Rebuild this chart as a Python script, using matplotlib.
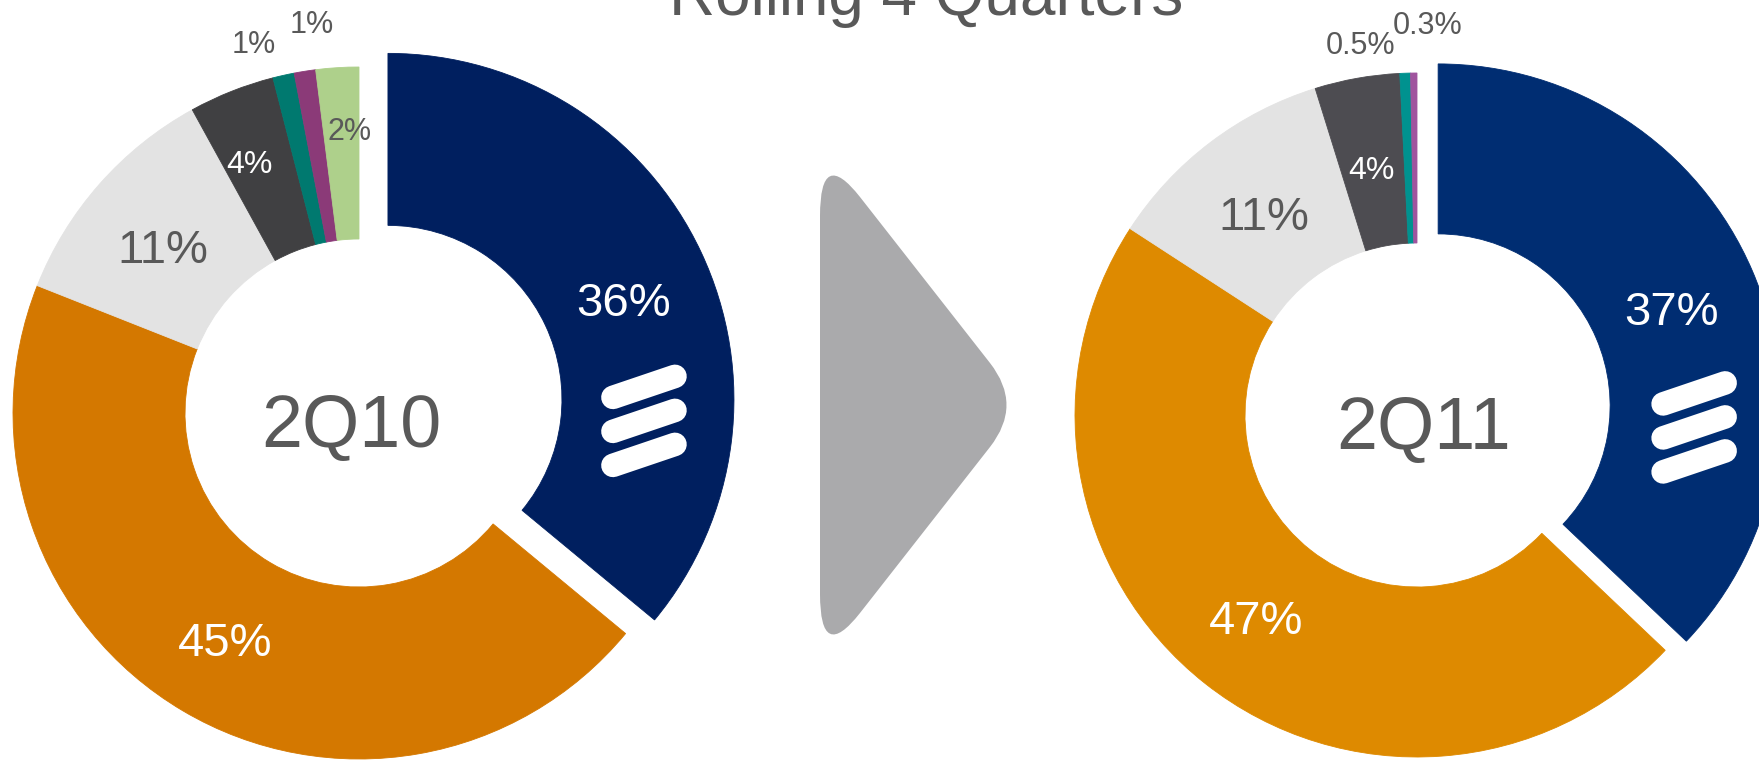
import numpy as np
import matplotlib.pyplot as plt
from matplotlib.path import Path
from matplotlib.patches import PathPatch

plt.rcParams['font.family'] = ['Liberation Sans', 'DejaVu Sans']

# Market shares, rolling 4 quarters, clockwise from 12 o'clock
share_2q10 = [36, 45, 11, 4, 1, 1, 2]
share_2q11 = [37, 47, 11, 4, 0.5, 0.3]
labels_2q10 = ["36%", "45%", "11%", "4%", "1%", "1%", "2%"]
labels_2q11 = ["37%", "47%", "11%", "4%", "0.5%", "0.3%"]
title = "Rolling 4 Quarters"
period_left = "2Q10"
period_right = "2Q11"

GREY_TXT = "#595959"
colors_2q10 = ["#001F5F", "#D47800", "#E3E3E3", "#404042", "#00796F", "#8B3A78", "#AED08B"]
colors_2q11 = ["#002D72", "#DE8A00", "#E3E3E3", "#4D4C51", "#00928F", "#A0549E"]

fig = plt.figure(figsize=(17.59, 7.6), dpi=100)
ax = fig.add_axes([0, 0, 1, 1])


def donut(values, labels, colors, center, radius, width, explode,
          lab_r, lab_da, lab_col, lab_fs, period, period_dx):
    expl = [explode] + [0] * (len(values) - 1)
    wedges, _ = ax.pie(values, radius=radius, center=center, startangle=90,
                       counterclock=False, explode=expl, colors=colors,
                       wedgeprops=dict(width=width, linewidth=0.6))
    for w, c in zip(wedges, colors):
        w.set_edgecolor(c)
    for w, lab, r, da, col, fs in zip(wedges, labels, lab_r, lab_da, lab_col, lab_fs):
        th = np.radians((w.theta1 + w.theta2) / 2 + da)
        cx, cy = w.center
        ax.text(cx + r * np.cos(th), cy + r * np.sin(th), lab, color=col,
                fontsize=fs, ha="center", va="center_baseline")
    # period in the hole
    ax.text(center[0] + period_dx, center[1] - 7, period, color=GREY_TXT, fontsize=53,
            ha="center", va="center_baseline")
    # logo on the highlighted wedge
    cx, cy = wedges[0].center
    for i in range(3):
        ax.plot([cx + 225, cx + 287], [cy + 2 - 34 * i, cy + 23 - 34 * i],
                color="white", lw=17, solid_capstyle="round")


W, G = "white", GREY_TXT
donut(share_2q10, labels_2q10, colors_2q10, (359, 347), 346, 172, 32,
      [256, 263, 258, 274, 386, 394, 285], [-2, 0, 1, 2, 3.3, -2.1, -1.8],
      [W, W, G, W, G, G, G], [34, 34, 34, 23, 22, 22, 22], period_left, -8)
donut(share_2q11, labels_2q11, colors_2q11, (1417, 345), 342, 170, 23,
      [253, 258, 253, 252, 377, 393], [-0.5, -0.4, 0, 0.4, 6.7, -2.1],
      [W, W, G, W, G, G], [34, 34, 34, 23, 22, 22], period_right, 7)

# arrow between the two donuts (pixel coords from top, flipped)
H = 760
pts = [(820, 216), (820, 146), (860, 197), (990, 363), (1023, 405), (990, 447),
       (860, 613), (820, 664), (820, 594), (820, 216)]
codes = [Path.MOVETO, Path.CURVE3, Path.CURVE3, Path.LINETO, Path.CURVE3, Path.CURVE3,
         Path.LINETO, Path.CURVE3, Path.CURVE3, Path.CLOSEPOLY]
arrow = Path([(x, H - y) for x, y in pts], codes)
ax.add_patch(PathPatch(arrow, facecolor="#AAAAAC", edgecolor="none"))

# title sits partly above the top edge, as in the source slide
ax.text(926, 745, title, color=GREY_TXT, fontsize=46, ha="center", va="baseline")

ax.set_xlim(0, 1759)
ax.set_ylim(0, 760)
ax.set_aspect("equal")
ax.axis("off")

plt.savefig("out.png", dpi=100)
